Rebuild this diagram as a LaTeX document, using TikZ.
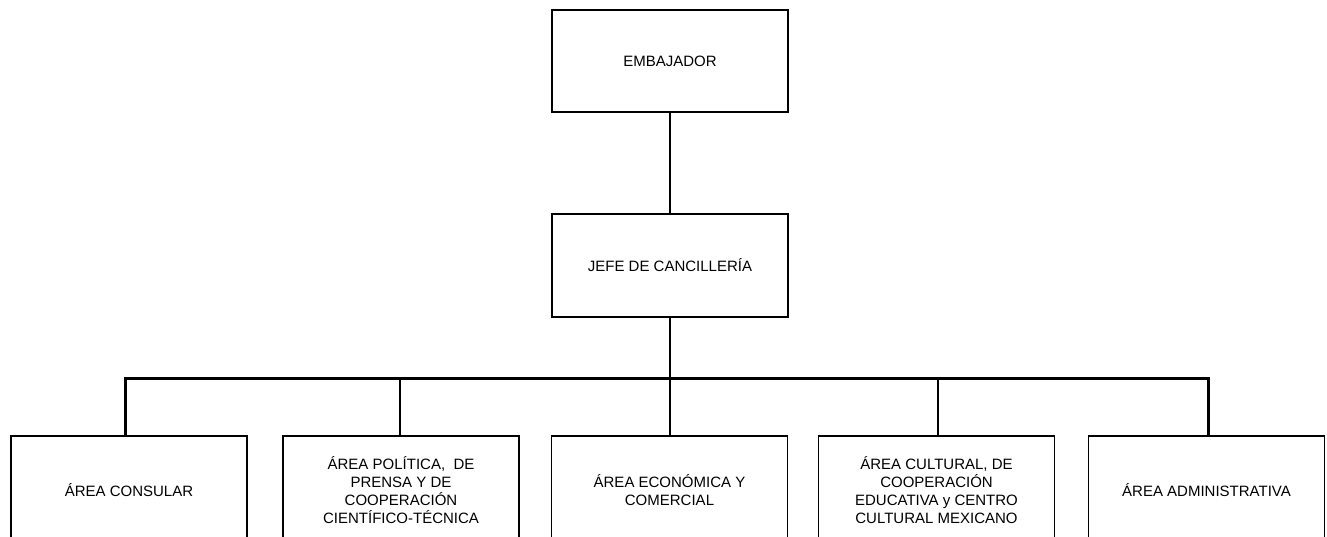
\documentclass[tikz,border=0pt]{standalone}
\usepackage{fontspec}
\setmainfont{Liberation Sans}
\begin{document}
\begin{tikzpicture}[x=1pt,y=-1pt,
  orgbox/.style={draw=black, line width=1.4pt, fill=white, rectangle, minimum width=236pt, align=center, inner sep=0pt, font=\fontsize{15}{18}\selectfont},
  topbox/.style={orgbox, minimum height=102pt},
  areabox/.style={orgbox, minimum height=108pt},
  conn/.style={line width=1.8pt},
  busline/.style={line width=3pt}
]
\useasboundingbox (0,0) rectangle (1327,537);
\clip (0,0) rectangle (1327,537);
\node[topbox] (emb) at (670,61) {EMBAJADOR};
\node[topbox, minimum height=103pt] (jefe) at (670,265.5) {JEFE DE CANCILLERÍA};
\node[areabox] (b1) at (129,490) {ÁREA CONSULAR};
\node[areabox] (b2) at (401,490) {ÁREA POLÍTICA,\ \ DE\\PRENSA Y DE\\COOPERACIÓN\\CIENTÍFICO-TÉCNICA};
\node[areabox] (b3) at (669.5,490) {ÁREA ECONÓMICA Y\\COMERCIAL};
\node[areabox] (b4) at (936.5,490) {ÁREA CULTURAL, DE\\COOPERACIÓN\\EDUCATIVA y CENTRO\\CULTURAL MEXICANO};
\node[areabox] (b5) at (1206.5,490) {ÁREA ADMINISTRATIVA};
\coordinate (bus) at (670,378);
\draw[conn] (emb.south) -- (jefe.north);
\draw[conn] (jefe.south) -- (b3.north -| jefe.south);
\draw[busline] ([xshift=-4pt]b1.north) |- (bus) -| ([xshift=1.5pt]b5.north);
\draw[conn] (b2.north -| 400,0) -- (bus -| 400,0);
\draw[conn] (b4.north -| 938,0) -- (bus -| 938,0);
\end{tikzpicture}
\end{document}
